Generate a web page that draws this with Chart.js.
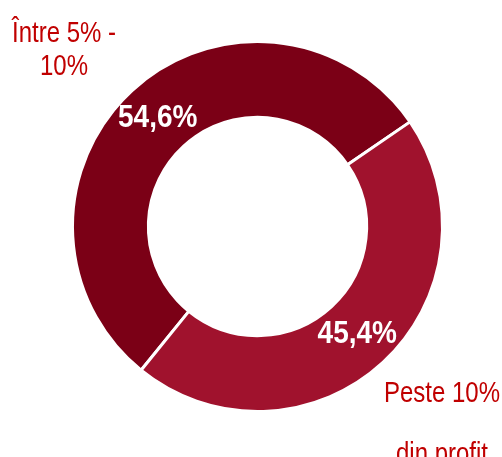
<!DOCTYPE html>
<html>
<head>
<meta charset="utf-8">
<script src="https://cdn.jsdelivr.net/npm/chart.js@4"></script>
<style>
  html, body { margin: 0; padding: 0; background: #fff; }
  #wrap { width: 502px; height: 457px; position: relative; }
</style>
</head>
<body>
<div id="wrap"><canvas id="chart"></canvas></div>
<script>
// date grafic
const categories = ['Între 5% - 10%', 'Peste 10% din profit'];
const values = [54.6, 45.4];
const colors = ['#7b0016', '#a0122d'];

// etichete de categorie (rânduri) afișate lângă inel
const labelLines = [['Între 5% -', '10%'], ['Peste 10%', 'din profit']];

const labelsPlugin = {
  id: 'labelsPlugin',
  afterDraw(chart) {
    const ctx = chart.ctx;
    const meta = chart.getDatasetMeta(0);
    ctx.save();
    ctx.textAlign = 'center';
    ctx.textBaseline = 'middle';
    ctx.fillStyle = '#ffffff';
    meta.data.forEach((arc, i) => {
      const p = arc.tooltipPosition();
      const txt = values[i].toFixed(1).replace('.', ',') + '%';
      ctx.save();
      ctx.translate(p.x, p.y);
      ctx.scale(1, 1.1);
      ctx.font = 'bold 28px "Liberation Sans", Arial, sans-serif';
      ctx.fillText(txt, 0, 0);
      ctx.restore();
    });

    // text categorii
    ctx.fillStyle = '#c00000';
    ctx.textBaseline = 'alphabetic';
    const spots = [
      { x: 64, y: 42, gap: 33 },
      { x: 442, y: 402, gap: 61 }
    ];
    labelLines.forEach((lines, i) => {
      lines.forEach((line, j) => {
        ctx.save();
        ctx.translate(spots[i].x, spots[i].y + j * spots[i].gap);
        ctx.scale(1, 1.2);
        ctx.font = '24px "Liberation Sans", Arial, sans-serif';
        ctx.fillText(line, 0, 0);
        ctx.restore();
      });
    });
    ctx.restore();
  }
};

new Chart(document.getElementById('chart'), {
  type: 'doughnut',
  data: {
    labels: categories,
    datasets: [{
      data: values,
      backgroundColor: colors,
      borderColor: '#ffffff',
      borderWidth: 3
    }]
  },
  options: {
    responsive: true,
    maintainAspectRatio: false,
    animation: false,
    rotation: -141,
    cutout: '59%',
    layout: { padding: { top: 40, bottom: 44, left: 71, right: 58 } },
    plugins: {
      legend: { display: false },
      tooltip: { enabled: false }
    }
  },
  plugins: [labelsPlugin]
});
</script>
</body>
</html>
